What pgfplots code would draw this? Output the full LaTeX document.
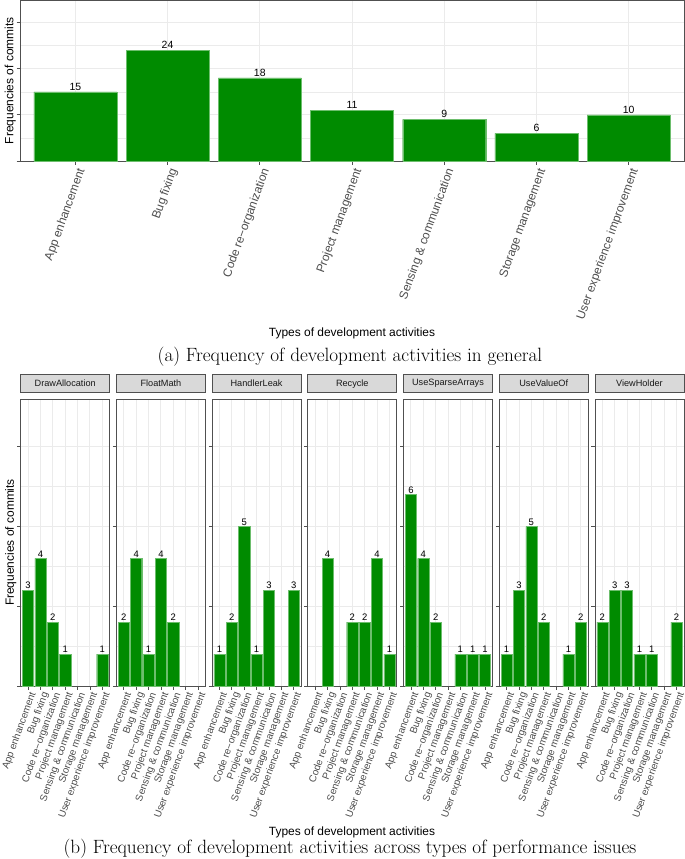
\documentclass[border=0pt]{standalone}
\usepackage{fontspec}
\usepackage{pgfplots}
\pgfplotsset{compat=1.18}
\newfontfamily\arial{Liberation Sans}

\definecolor{bargreen}{HTML}{008B00}
\definecolor{barline}{HTML}{6DBE6D}
\definecolor{gridgray}{HTML}{EBEBEB}
\definecolor{framegray}{HTML}{505050}
\definecolor{stripgray}{HTML}{D9D9D9}
\definecolor{ticktext}{HTML}{4D4D4D}

\pgfplotsset{
  gg/.style={
    scale only axis,
    /pgf/number format/assume math mode=true,
    axis line style={framegray, line width=0.8bp},
    tick pos=left, tick align=outside,
    major tick length=3.5bp, minor tick length=0pt,
    every tick/.append style={framegray, line width=0.8bp},
    xmajorgrids, ymajorgrids, yminorgrids, minor y tick num=1,
    major grid style={gridgray, line width=0.9bp},
    minor grid style={gridgray, line width=0.5bp},
    ymin=0, xmin=-0.6, xmax=6.6,
    xtick={0,...,6},
    xticklabels={App enhancement, Bug fixing, Code re−organization,
      Project management, Sensing \& communication, Storage management,
      User experience improvement},
    yticklabels={},
    ybar, bar width=0.9,
    ylabel={Frequencies of commits},
    ylabel style={anchor=south, inner sep=0pt, font=\arial\fontsize{12}{14}\selectfont},
  },
  facet/.style={
    gg, width=89bp, height=287bp, ymax=9, ytick={0,2.5,5,7.5},
    xticklabel style={rotate=70, anchor=north east, inner sep=1.2bp,
      font=\arial\fontsize{10}{12}\selectfont, text=ticktext},
    nodes near coords,
    nodes near coords style={font=\arial\fontsize{9.5}{11}\selectfont, text=black, inner sep=1.2bp},
    title style={at={(0.5,1)}, anchor=south, yshift=0pt, inner sep=0pt,
      fill=stripgray, draw=framegray, line width=0.8bp,
      minimum width=89bp, minimum height=18bp,
      font=\arial\fontsize{9.2}{11}\selectfont, text=black!90},
    ylabel style={at={(axis description cs:-0.047,0.5)}},
  },
  bars/.style={fill=bargreen, draw=barline, line width=0.4bp},
}

% one facet of the lower chart: x position, title, coordinates, extra options
\newcommand\facet[4]{%
  \begin{axis}[facet, at={(#1bp,-686bp)}, anchor=south west, title={#2}, #4]
    \addplot[bars] coordinates {#3};
  \end{axis}}

\begin{document}
\begin{tikzpicture}
\useasboundingbox (0,0) rectangle (685bp,-859bp);

% (a) overall frequencies
\begin{axis}[gg, at={(20bp,-161bp)}, anchor=south west,
    width=664bp, height=160.5bp, ymax=34.8, ytick={0,10,20,30},
    xticklabel style={rotate=70, anchor=north east, inner sep=2bp,
      font=\arial\fontsize{12}{14}\selectfont, text=ticktext},
    ylabel style={at={(axis description cs:-0.006,0.5)}},
    nodes near coords,
    nodes near coords style={font=\arial\fontsize{10.5}{12}\selectfont, text=black, inner sep=1.5bp},
  ]
  \addplot[bars] coordinates {(0,15) (1,24) (2,18) (3,11) (4,9) (5,6) (6,10)};
\end{axis}
\node[font=\arial\fontsize{12}{14}\selectfont] at (352bp,-333bp) {Types of development activities};
\node[font=\fontsize{19.3}{22}\selectfont] at (350bp,-357bp) {(a) Frequency of development activities in general};

% (b) frequencies per type of performance issue
\facet{20.7}{DrawAllocation}{(0,3) (1,4) (2,2) (3,1) (6,1)}{}
\facet{116.4}{FloatMath}{(0,2) (1,4) (2,1) (3,4) (4,2)}{ylabel={}}
\facet{212.1}{HandlerLeak}{(0,1) (1,2) (2,5) (3,1) (4,3) (6,3)}{ylabel={}}
\facet{307.8}{Recycle}{(1,4) (3,2) (4,2) (5,4) (6,1)}{ylabel={}}
\facet{403.5}{UseSparseArrays}{(0,6) (1,4) (2,2) (4,1) (5,1) (6,1)}{ylabel={}}
\facet{499.2}{UseValueOf}{(0,1) (1,3) (2,5) (3,2) (5,1) (6,2)}{ylabel={}}
\facet{594.9}{ViewHolder}{(0,2) (1,3) (2,3) (3,1) (4,1) (6,2)}{ylabel={}}

\node[font=\arial\fontsize{12}{14}\selectfont] at (352bp,-832bp) {Types of development activities};
\node[font=\fontsize{19.3}{22}\selectfont] at (350bp,-849bp) {(b) Frequency of development activities across types of performance issues};
\end{tikzpicture}
\end{document}
